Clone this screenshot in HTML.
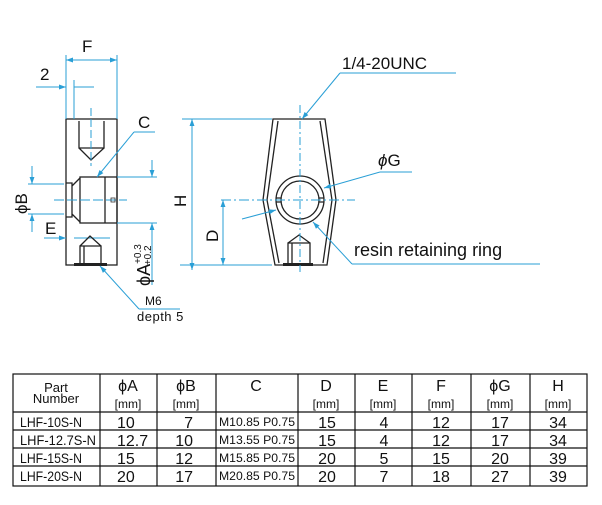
<!DOCTYPE html>
<html><head><meta charset="utf-8"><style>
html,body{margin:0;padding:0;background:#fff;width:602px;height:505px;overflow:hidden}
svg{display:block}
.b{stroke:#2a9fd6;stroke-width:1;fill:none}
.k{stroke:#222;stroke-width:1.3;fill:none}
.t{font-family:"Liberation Sans",sans-serif;fill:#111}
.n{font-family:"Liberation Sans Narrow","Liberation Sans",sans-serif;fill:#111}
</style></head><body>
<svg width="602" height="505" viewBox="0 0 602 505" xmlns="http://www.w3.org/2000/svg">
<defs>
<marker id="a" viewBox="0 0 10 10" refX="10" refY="5" markerWidth="11" markerHeight="7" orient="auto-start-reverse"><path d="M0,1.5 L10,5 L0,8.5z" fill="#2a9fd6"/></marker>
</defs>
<!-- LEFT VIEW -->
<rect x="66" y="119" width="51" height="146" class="k"/>
<line x1="66" y1="55" x2="66" y2="119" class="b"/>
<line x1="117" y1="55" x2="117" y2="119" class="b"/>
<line x1="66" y1="60" x2="117" y2="60" class="b" marker-start="url(#a)" marker-end="url(#a)"/>
<text x="82" y="52" class="t" font-size="17">F</text>
<line x1="74" y1="80" x2="74" y2="119" class="b"/>
<line x1="36" y1="87" x2="66" y2="87" class="b" marker-end="url(#a)"/>
<line x1="74" y1="87" x2="94" y2="87" class="b"/>
<text x="40" y="80" class="t" font-size="17">2</text>
<path d="M79,121 V148 H104 V121 M79,148 L91,160 L104,148" class="k" stroke-width="1"/>
<line x1="91" y1="108" x2="91" y2="166" class="b" stroke-dasharray="8,3"/>
<path d="M66,183 L72,183 L72,217 L66,217 M72,186 L80,178 M72,214 L80,222" class="k" stroke-width="1"/>
<rect x="80" y="177" width="37" height="46" class="k"/>
<line x1="105" y1="177" x2="105" y2="223" class="k" stroke-width="1"/>
<line x1="54" y1="200" x2="127" y2="200" class="b" stroke-dasharray="10,3"/>
<rect x="111" y="198" width="4" height="4" fill="none" stroke="#333" stroke-width="0.8"/>
<line x1="28" y1="184" x2="64" y2="184" class="b"/>
<line x1="28" y1="214" x2="64" y2="214" class="b"/>
<line x1="32" y1="166" x2="32" y2="184" class="b" marker-end="url(#a)"/>
<line x1="32" y1="232" x2="32" y2="214" class="b" marker-end="url(#a)"/>
<text transform="translate(27,214) rotate(-90)" class="t" font-size="17">ϕB</text>
<text x="45" y="234" class="t" font-size="17">E</text>
<line x1="44" y1="238" x2="66" y2="238" class="b" marker-end="url(#a)"/>
<line x1="74" y1="238" x2="110" y2="238" class="b"/>
<path d="M80,265 V246 H101 V265 M80,246 L90,236 L101,246 M84,246 V264" class="k" stroke-width="1"/>
<rect x="74" y="263" width="33" height="3" fill="#222"/>
<line x1="117" y1="177" x2="157" y2="177" class="b"/>
<line x1="117" y1="223" x2="157" y2="223" class="b"/>
<line x1="152" y1="160" x2="152" y2="177" class="b" marker-end="url(#a)"/>
<line x1="152" y1="285" x2="152" y2="223" class="b" marker-end="url(#a)"/>
<text transform="translate(150,286) rotate(-90)" class="t" font-size="18">ϕA<tspan font-size="10" dy="-9">+0.3</tspan><tspan font-size="10" dx="-21" dy="10">+0.2</tspan></text>
<line x1="155" y1="132" x2="134" y2="132" class="b"/>
<line x1="134" y1="132" x2="97" y2="177" class="b" marker-end="url(#a)"/>
<text x="138" y="128" class="t" font-size="17">C</text>
<line x1="100" y1="266" x2="139" y2="309" class="b" marker-start="url(#a)"/>
<line x1="139" y1="309" x2="180" y2="309" class="b"/>
<text x="145" y="305" class="t" font-size="12">M6</text>
<text x="137" y="321" class="n" font-size="13" letter-spacing="0.5">depth 5</text>
<line x1="182" y1="119" x2="272" y2="119" class="b"/>
<line x1="180" y1="265" x2="272" y2="265" class="b"/>
<line x1="192" y1="119" x2="192" y2="270" class="b" marker-start="url(#a)" marker-end="url(#a)"/>
<text transform="translate(186,207) rotate(-90)" class="t" font-size="17">H</text>
<!-- RIGHT VIEW -->
<path d="M273,119 H325 L336,200 L327,265 H275 L263,200 Z" class="k"/>
<path d="M278,121 L267,200 L279,263 M320,121 L332,200 L323,263" class="k" stroke-width="0.8"/>
<circle cx="300" cy="200" r="24" class="k"/>
<circle cx="300" cy="200" r="19" class="k" stroke-width="1"/>
<path d="M276,198 H281 M276,202 H281 M319,198 H324 M319,202 H324" class="k" stroke-width="0.8"/>
<path d="M288,263 V243 H310 V263 M288,243 L299,235 L310,243 M292,243 V263" class="k" stroke-width="1"/>
<rect x="283" y="263" width="30" height="3" fill="#222"/>
<line x1="300" y1="105" x2="300" y2="272" class="b" stroke-dasharray="8,3,2,3"/>
<line x1="221" y1="200" x2="355" y2="200" class="b" stroke-dasharray="10,3,2,3"/>
<line x1="223" y1="200" x2="223" y2="265" class="b" marker-start="url(#a)" marker-end="url(#a)"/>
<text transform="translate(218,242) rotate(-90)" class="t" font-size="17">D</text>
<text x="342" y="69" class="t" font-size="17">1/4-20UNC</text>
<line x1="340" y1="73" x2="456" y2="73" class="b"/>
<line x1="340" y1="73" x2="302" y2="119" class="b" marker-end="url(#a)"/>
<text x="378" y="166" class="t" font-size="17"><tspan font-style="italic">ϕ</tspan>G</text>
<line x1="380" y1="172" x2="412" y2="172" class="b"/>
<line x1="380" y1="172" x2="324" y2="188" class="b" marker-end="url(#a)"/>
<line x1="242" y1="219" x2="276" y2="210" class="b" marker-end="url(#a)"/>
<text x="354" y="256" class="t" font-size="18">resin retaining ring</text>
<line x1="352" y1="264" x2="540" y2="264" class="b"/>
<line x1="352" y1="264" x2="313" y2="222" class="b" marker-end="url(#a)"/>
<!-- TABLE -->
<g stroke="#111" stroke-width="1.2" fill="none">
<rect x="13" y="374" width="574" height="112"/>
<line x1="13" y1="412" x2="587" y2="412"/>
<line x1="13" y1="430" x2="587" y2="430"/>
<line x1="13" y1="448" x2="587" y2="448"/>
<line x1="13" y1="466" x2="587" y2="466"/>
<line x1="100" y1="374" x2="100" y2="486"/>
<line x1="157" y1="374" x2="157" y2="486"/>
<line x1="216" y1="374" x2="216" y2="486"/>
<line x1="298" y1="374" x2="298" y2="486"/>
<line x1="355" y1="374" x2="355" y2="486"/>
<line x1="412" y1="374" x2="412" y2="486"/>
<line x1="471" y1="374" x2="471" y2="486"/>
<line x1="530" y1="374" x2="530" y2="486"/>
</g>
<g class="n" font-size="16" text-anchor="middle">
<text x="56" y="392" class="t" font-size="13">Part</text>
<text x="56" y="403" class="t" font-size="13">Number</text>
<text x="128" y="391">ϕA</text><text x="128" y="408" font-size="12">[mm]</text>
<text x="186" y="391">ϕB</text><text x="186" y="408" font-size="12">[mm]</text>
<text x="256" y="391">C</text>
<text x="326" y="391">D</text><text x="326" y="408" font-size="12">[mm]</text>
<text x="383" y="391">E</text><text x="383" y="408" font-size="12">[mm]</text>
<text x="441" y="391">F</text><text x="441" y="408" font-size="12">[mm]</text>
<text x="500" y="391">ϕG</text><text x="500" y="408" font-size="12">[mm]</text>
<text x="558" y="391">H</text><text x="558" y="408" font-size="12">[mm]</text>
</g>
<g class="n" font-size="14">
<text x="20" y="427" textLength="62" lengthAdjust="spacingAndGlyphs">LHF-10S-N</text><text x="20" y="445" textLength="76" lengthAdjust="spacingAndGlyphs">LHF-12.7S-N</text><text x="20" y="463" textLength="62" lengthAdjust="spacingAndGlyphs">LHF-15S-N</text><text x="20" y="481" textLength="62" lengthAdjust="spacingAndGlyphs">LHF-20S-N</text>
</g>
<g class="n" font-size="12">
<text x="219" y="426" textLength="76" lengthAdjust="spacingAndGlyphs">M10.85 P0.75</text><text x="219" y="444" textLength="76" lengthAdjust="spacingAndGlyphs">M13.55 P0.75</text><text x="219" y="462" textLength="76" lengthAdjust="spacingAndGlyphs">M15.85 P0.75</text><text x="219" y="480" textLength="76" lengthAdjust="spacingAndGlyphs">M20.85 P0.75</text>
</g>
<g class="n" font-size="16">
<text x="117" y="428">10</text><text x="117" y="446">12.7</text><text x="117" y="464">15</text><text x="117" y="482">20</text>
</g>
<g class="n" font-size="16" text-anchor="end">
<text x="193" y="428">7</text><text x="193" y="446">10</text><text x="193" y="464">12</text><text x="193" y="482">17</text>
</g>
<g class="n" font-size="16" text-anchor="middle">
<text x="327" y="428">15</text><text x="327" y="446">15</text><text x="327" y="464">20</text><text x="327" y="482">20</text>
<text x="384" y="428">4</text><text x="384" y="446">4</text><text x="384" y="464">5</text><text x="384" y="482">7</text>
<text x="441" y="428">12</text><text x="441" y="446">12</text><text x="441" y="464">15</text><text x="441" y="482">18</text>
<text x="500" y="428">17</text><text x="500" y="446">17</text><text x="500" y="464">20</text><text x="500" y="482">27</text>
<text x="558" y="428">34</text><text x="558" y="446">34</text><text x="558" y="464">39</text><text x="558" y="482">39</text>
</g>
</svg>
</body></html>
